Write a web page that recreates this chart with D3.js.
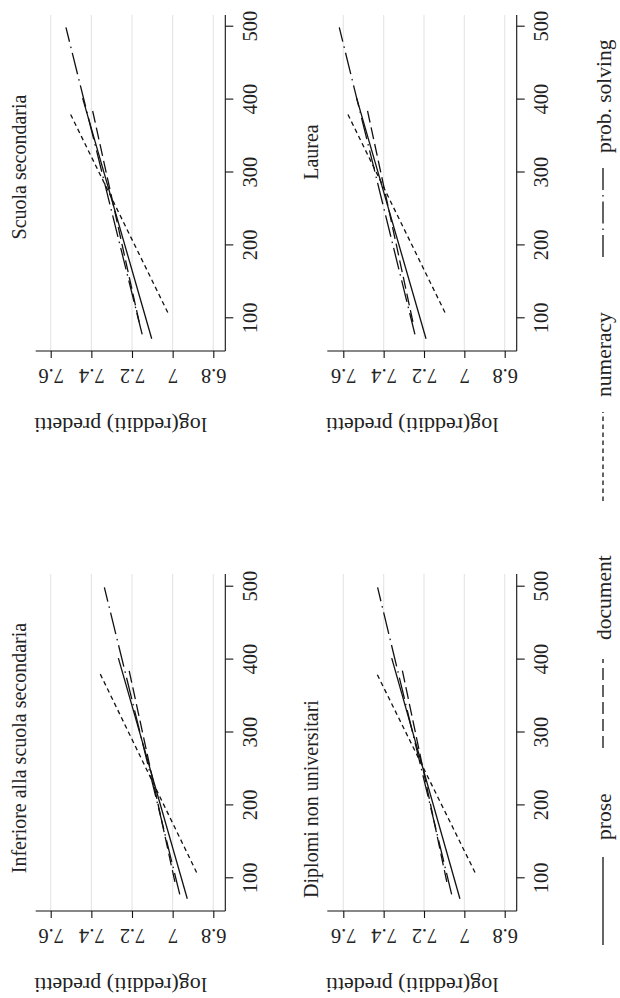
<!DOCTYPE html>
<html><head><meta charset="utf-8">
<script src="https://cdn.jsdelivr.net/npm/d3@7"></script>
<style>body{margin:0;background:#fff} text{font-family:"Liberation Serif","DejaVu Serif",serif;fill:#222}</style>
</head><body>
<svg id="c" width="620" height="998"></svg>
<script>
// ---- data ----
const panelTitles = ["Inferiore alla scuola secondaria", "Scuola secondaria", "Diplomi non universitari", "Laurea"];
const seriesNames = ["prose", "document", "numeracy", "prob. solving"];
// score range (min, max) of each series
const proseRange = [72, 402];
const documentRange = [95, 390];
const numeracyRange = [108, 383];
const probRange = [78, 499];
// predicted log earnings at min and max score, one pair per panel
const proseVals    = [[6.928, 7.267], [7.103, 7.443], [7.022, 7.360], [7.190, 7.534]];
const documentVals = [[6.989, 7.218], [7.165, 7.398], [7.087, 7.311], [7.255, 7.484]];
const numeracyVals = [[6.882, 7.361], [7.024, 7.508], [6.947, 7.438], [7.096, 7.583]];
const probVals     = [[6.965, 7.336], [7.150, 7.525], [7.063, 7.430], [7.245, 7.620]];
const xTicks = [100, 200, 300, 400, 500];
const yTicks = [6.8, 7, 7.2, 7.4, 7.6];
const yTickLabels = ["6.8", "7", "7.2", "7.4", "7.6"];
const yTitle = "log(redditi) predetti";

// ---- layout (unrotated chart 998 x 620, then rotated) ----
const ranges = [proseRange, documentRange, numeracyRange, probRange];
const vals = [proseVals, documentVals, numeracyVals, probVals];
const dashes = [null, "12,5", "4.5,3.5", "22,5,1.5,5"];
const cols = [{r: [119.7, 411.3], l: 87, rr: 424}, {r: [679.7, 971.3], l: 647, rr: 983}];
const rows = [{r: [213.3, 50.7], t: 35.7, b: 225.3}, {r: [504.7, 343.3], t: 327.3, b: 516.7}];
const titleCx = [250, 831, 199, 846];

const svg = d3.select("#c");
const g = svg.append("g").attr("transform", "translate(0,998) rotate(-90)");

panelTitles.forEach((name, i) => {
  const col = cols[i % 2], row = rows[Math.floor(i / 2)];
  const x = d3.scaleLinear().domain([100, 500]).range(col.r);
  const y = d3.scaleLinear().domain([6.8, 7.6]).range(row.r);
  const p = g.append("g");

  // gridlines
  p.selectAll("line.grid").data(yTicks).join("line").attr("class", "grid")
    .attr("x1", col.l).attr("x2", col.rr)
    .attr("y1", d => y(d)).attr("y2", d => y(d))
    .attr("stroke", "#e6e6e6").attr("stroke-width", 1.2);

  // x axis
  const xa = p.append("g").attr("transform", `translate(0,${row.b})`)
    .call(d3.axisBottom(x).tickValues(xTicks).tickSize(8).tickPadding(9).tickFormat(d3.format("d")));
  xa.select(".domain").remove();
  xa.append("line").attr("x1", col.l).attr("x2", col.rr).attr("stroke", "#111").attr("stroke-width", 1.1);
  xa.selectAll(".tick line").attr("stroke", "#111").attr("stroke-width", 1.1);
  xa.selectAll(".tick text").style("font-size", "20.5px").attr("fill", "#222");

  // y axis
  const ya = p.append("g").attr("transform", `translate(${col.l},0)`)
    .call(d3.axisLeft(y).tickValues(yTicks).tickSize(7).tickFormat((d, k) => yTickLabels[k]));
  ya.select(".domain").remove();
  ya.append("line").attr("y1", row.t).attr("y2", row.b).attr("stroke", "#111").attr("stroke-width", 1.1);
  ya.selectAll(".tick line").attr("stroke", "#111").attr("stroke-width", 1.1);
  ya.selectAll(".tick text")
    .attr("x", null).attr("dy", null).attr("y", null)
    .attr("text-anchor", "middle")
    .attr("transform", "translate(-17.5,0) rotate(-90)")
    .style("font-size", "20.5px").attr("fill", "#222");

  // y title
  p.append("text")
    .attr("transform", `translate(${col.l - 67},${(row.t + row.b) / 2 - 10}) rotate(-90)`)
    .attr("text-anchor", "middle").style("font-size", "22px").text(yTitle);

  // panel title
  p.append("text").attr("x", titleCx[i]).attr("y", row.t - 9.5)
    .attr("text-anchor", "middle").style("font-size", "20px").text(name);

  // series lines
  const line = d3.line().x(d => x(d[0])).y(d => y(d[1]));
  seriesNames.forEach((s, k) => {
    const pts = [[ranges[k][0], vals[k][i][0]], [ranges[k][1], vals[k][i][1]]];
    p.append("path").attr("d", line(pts))
      .attr("fill", "none").attr("stroke", "#111").attr("stroke-width", 1.3)
      .attr("stroke-dasharray", dashes[k]);
  });
});

// legend
const legKeys = [[53, 141], [250, 339], [497, 586], [741, 831]];
const legText = [158, 358, 601, 845];
const leg = g.append("g");
seriesNames.forEach((s, k) => {
  leg.append("line").attr("x1", legKeys[k][0]).attr("x2", legKeys[k][1])
    .attr("y1", 603).attr("y2", 603)
    .attr("stroke", "#111").attr("stroke-width", 1.3).attr("stroke-dasharray", dashes[k]);
  leg.append("text").attr("x", legText[k]).attr("y", 611).style("font-size", "21.5px").text(s);
});
</script>
</body></html>
